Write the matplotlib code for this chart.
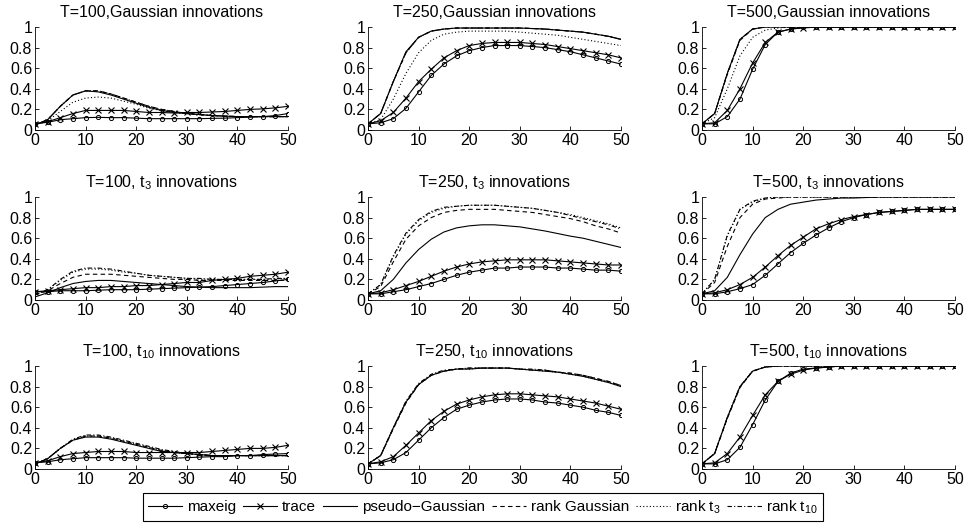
import numpy as np
import matplotlib
matplotlib.use("Agg")
import matplotlib.pyplot as plt

plt.rcParams['font.family'] = ['Liberation Sans', 'DejaVu Sans']
plt.rcParams['mathtext.fontset'] = 'custom'
plt.rcParams['mathtext.rm'] = 'Liberation Sans'
plt.rcParams['mathtext.it'] = 'Liberation Sans'
plt.rcParams['mathtext.default'] = 'regular'

# x grid: jump size 0 .. 50 in steps of 2.5
x = np.arange(0, 50.01, 2.5)

titles = ["T=100,Gaussian innovations", "T=250,Gaussian innovations", "T=500,Gaussian innovations",
          "T=100, t$_3$ innovations", "T=250, t$_3$ innovations", "T=500, t$_3$ innovations",
          "T=100, t$_{10}$ innovations", "T=250, t$_{10}$ innovations", "T=500, t$_{10}$ innovations"]

labels = ["maxeig", "trace", "pseudo\u2212Gaussian", "rank Gaussian", "rank t$_3$", "rank t$_{10}$"]

# rejection frequencies, one row per panel (row-major order)
maxeig = [
    [0.06, 0.075, 0.10, 0.11, 0.12, 0.123, 0.12, 0.12, 0.115, 0.11, 0.11, 0.11, 0.11, 0.11, 0.113, 0.115, 0.12, 0.125, 0.13, 0.14, 0.16],
    [0.06, 0.07, 0.11, 0.21, 0.37, 0.53, 0.64, 0.72, 0.77, 0.80, 0.82, 0.82, 0.82, 0.81, 0.80, 0.78, 0.76, 0.73, 0.70, 0.67, 0.64],
    [0.06, 0.06, 0.13, 0.30, 0.59, 0.83, 0.95, 0.98, 1.0, 1.0, 1.0, 1.0, 1.0, 1.0, 1.0, 1.0, 1.0, 1.0, 1.0, 1.0, 1.0],
    [0.08, 0.08, 0.09, 0.09, 0.09, 0.095, 0.10, 0.10, 0.10, 0.105, 0.11, 0.115, 0.12, 0.125, 0.13, 0.14, 0.15, 0.16, 0.17, 0.185, 0.20],
    [0.06, 0.06, 0.08, 0.10, 0.13, 0.16, 0.20, 0.24, 0.27, 0.29, 0.31, 0.31, 0.32, 0.32, 0.32, 0.31, 0.31, 0.30, 0.29, 0.29, 0.28],
    [0.06, 0.06, 0.08, 0.11, 0.15, 0.24, 0.35, 0.46, 0.55, 0.63, 0.70, 0.76, 0.80, 0.83, 0.85, 0.86, 0.87, 0.88, 0.88, 0.88, 0.88],
    [0.06, 0.07, 0.09, 0.10, 0.11, 0.11, 0.11, 0.11, 0.105, 0.105, 0.105, 0.105, 0.11, 0.115, 0.12, 0.12, 0.13, 0.13, 0.14, 0.145, 0.15],
    [0.05, 0.06, 0.09, 0.16, 0.28, 0.40, 0.50, 0.58, 0.62, 0.65, 0.67, 0.68, 0.68, 0.67, 0.65, 0.64, 0.62, 0.60, 0.57, 0.55, 0.52],
    [0.05, 0.05, 0.09, 0.21, 0.43, 0.67, 0.85, 0.93, 0.97, 0.98, 0.99, 1.0, 1.0, 1.0, 1.0, 1.0, 1.0, 1.0, 1.0, 1.0, 1.0],
]

trace = [
    [0.06, 0.08, 0.12, 0.16, 0.19, 0.19, 0.19, 0.19, 0.18, 0.17, 0.17, 0.165, 0.17, 0.17, 0.175, 0.18, 0.19, 0.20, 0.205, 0.215, 0.23],
    [0.06, 0.09, 0.17, 0.31, 0.47, 0.59, 0.70, 0.77, 0.82, 0.84, 0.85, 0.85, 0.85, 0.84, 0.83, 0.81, 0.79, 0.77, 0.75, 0.73, 0.70],
    [0.06, 0.07, 0.19, 0.40, 0.65, 0.85, 0.95, 0.98, 0.99, 1.0, 1.0, 1.0, 1.0, 1.0, 1.0, 1.0, 1.0, 1.0, 1.0, 1.0, 1.0],
    [0.08, 0.09, 0.10, 0.11, 0.12, 0.12, 0.13, 0.13, 0.14, 0.14, 0.15, 0.16, 0.17, 0.17, 0.19, 0.20, 0.21, 0.23, 0.24, 0.25, 0.27],
    [0.06, 0.07, 0.10, 0.14, 0.18, 0.23, 0.28, 0.32, 0.35, 0.37, 0.38, 0.39, 0.39, 0.39, 0.39, 0.38, 0.37, 0.36, 0.35, 0.34, 0.34],
    [0.06, 0.07, 0.10, 0.15, 0.22, 0.32, 0.43, 0.53, 0.61, 0.69, 0.74, 0.78, 0.81, 0.83, 0.85, 0.86, 0.87, 0.88, 0.88, 0.88, 0.88],
    [0.06, 0.08, 0.12, 0.15, 0.16, 0.17, 0.17, 0.17, 0.16, 0.16, 0.16, 0.16, 0.16, 0.16, 0.17, 0.18, 0.19, 0.20, 0.20, 0.21, 0.23],
    [0.05, 0.07, 0.12, 0.23, 0.35, 0.47, 0.56, 0.63, 0.67, 0.70, 0.72, 0.73, 0.73, 0.72, 0.71, 0.70, 0.68, 0.66, 0.64, 0.61, 0.58],
    [0.05, 0.06, 0.15, 0.31, 0.52, 0.72, 0.85, 0.92, 0.96, 0.98, 0.99, 1.0, 1.0, 1.0, 1.0, 1.0, 1.0, 1.0, 1.0, 1.0, 1.0],
]

pseudo_gauss = [
    [0.05, 0.10, 0.23, 0.34, 0.38, 0.37, 0.34, 0.30, 0.26, 0.22, 0.19, 0.17, 0.16, 0.15, 0.14, 0.135, 0.13, 0.13, 0.13, 0.13, 0.13],
    [0.06, 0.16, 0.47, 0.76, 0.90, 0.96, 0.98, 0.99, 0.99, 0.99, 0.99, 0.99, 0.99, 0.985, 0.98, 0.97, 0.96, 0.95, 0.93, 0.91, 0.88],
    [0.06, 0.16, 0.55, 0.88, 0.98, 1.0, 1.0, 1.0, 1.0, 1.0, 1.0, 1.0, 1.0, 1.0, 1.0, 1.0, 1.0, 1.0, 1.0, 1.0, 1.0],
    [0.03, 0.07, 0.12, 0.16, 0.18, 0.19, 0.19, 0.18, 0.17, 0.16, 0.15, 0.14, 0.13, 0.125, 0.12, 0.12, 0.12, 0.12, 0.125, 0.13, 0.13],
    [0.06, 0.09, 0.20, 0.36, 0.49, 0.59, 0.66, 0.70, 0.72, 0.73, 0.73, 0.72, 0.71, 0.69, 0.67, 0.645, 0.62, 0.60, 0.57, 0.54, 0.51],
    [0.06, 0.09, 0.22, 0.44, 0.64, 0.80, 0.88, 0.93, 0.95, 0.97, 0.98, 0.99, 0.99, 0.995, 1.0, 1.0, 1.0, 1.0, 1.0, 1.0, 1.0],
    [0.05, 0.10, 0.20, 0.28, 0.31, 0.31, 0.29, 0.26, 0.23, 0.20, 0.17, 0.16, 0.15, 0.14, 0.13, 0.13, 0.13, 0.13, 0.13, 0.13, 0.13],
    [0.05, 0.13, 0.40, 0.65, 0.82, 0.91, 0.95, 0.97, 0.97, 0.98, 0.98, 0.98, 0.97, 0.96, 0.95, 0.94, 0.92, 0.90, 0.87, 0.84, 0.80],
    [0.05, 0.15, 0.50, 0.80, 0.95, 0.99, 1.0, 1.0, 1.0, 1.0, 1.0, 1.0, 1.0, 1.0, 1.0, 1.0, 1.0, 1.0, 1.0, 1.0, 1.0],
]

rank_gauss = [
    [0.05, 0.10, 0.23, 0.34, 0.38, 0.38, 0.35, 0.31, 0.27, 0.23, 0.20, 0.18, 0.16, 0.15, 0.14, 0.135, 0.13, 0.13, 0.13, 0.13, 0.13],
    [0.06, 0.16, 0.47, 0.75, 0.90, 0.96, 0.98, 0.99, 0.99, 0.99, 0.99, 0.99, 0.99, 0.985, 0.98, 0.97, 0.96, 0.95, 0.93, 0.91, 0.88],
    [0.06, 0.16, 0.54, 0.87, 0.98, 1.0, 1.0, 1.0, 1.0, 1.0, 1.0, 1.0, 1.0, 1.0, 1.0, 1.0, 1.0, 1.0, 1.0, 1.0, 1.0],
    [0.05, 0.09, 0.16, 0.22, 0.25, 0.25, 0.25, 0.24, 0.23, 0.22, 0.21, 0.20, 0.20, 0.19, 0.19, 0.19, 0.19, 0.19, 0.19, 0.19, 0.19],
    [0.06, 0.13, 0.37, 0.59, 0.72, 0.80, 0.85, 0.87, 0.88, 0.88, 0.88, 0.87, 0.86, 0.85, 0.83, 0.81, 0.79, 0.76, 0.72, 0.69, 0.65],
    [0.06, 0.17, 0.52, 0.80, 0.93, 0.98, 0.99, 1.0, 1.0, 1.0, 1.0, 1.0, 1.0, 1.0, 1.0, 1.0, 1.0, 1.0, 1.0, 1.0, 1.0],
    [0.05, 0.10, 0.20, 0.28, 0.32, 0.32, 0.30, 0.27, 0.24, 0.21, 0.18, 0.16, 0.15, 0.14, 0.13, 0.13, 0.13, 0.13, 0.13, 0.13, 0.13],
    [0.05, 0.13, 0.39, 0.64, 0.82, 0.91, 0.95, 0.97, 0.98, 0.98, 0.98, 0.98, 0.97, 0.96, 0.96, 0.94, 0.93, 0.91, 0.88, 0.85, 0.81],
    [0.05, 0.15, 0.49, 0.79, 0.95, 0.99, 1.0, 1.0, 1.0, 1.0, 1.0, 1.0, 1.0, 1.0, 1.0, 1.0, 1.0, 1.0, 1.0, 1.0, 1.0],
]

rank_t3 = [
    [0.05, 0.09, 0.18, 0.27, 0.31, 0.32, 0.31, 0.28, 0.25, 0.21, 0.19, 0.17, 0.16, 0.15, 0.14, 0.135, 0.13, 0.13, 0.13, 0.13, 0.13],
    [0.06, 0.10, 0.30, 0.55, 0.75, 0.87, 0.93, 0.95, 0.96, 0.96, 0.96, 0.96, 0.95, 0.94, 0.93, 0.92, 0.90, 0.88, 0.86, 0.84, 0.82],
    [0.06, 0.12, 0.40, 0.72, 0.90, 0.97, 0.99, 1.0, 1.0, 1.0, 1.0, 1.0, 1.0, 1.0, 1.0, 1.0, 1.0, 1.0, 1.0, 1.0, 1.0],
    [0.05, 0.10, 0.19, 0.27, 0.30, 0.30, 0.29, 0.27, 0.26, 0.24, 0.23, 0.22, 0.21, 0.205, 0.20, 0.20, 0.20, 0.20, 0.20, 0.205, 0.21],
    [0.06, 0.15, 0.42, 0.64, 0.77, 0.85, 0.89, 0.91, 0.92, 0.92, 0.92, 0.91, 0.90, 0.89, 0.87, 0.85, 0.83, 0.80, 0.77, 0.74, 0.70],
    [0.06, 0.20, 0.62, 0.88, 0.95, 0.99, 1.0, 1.0, 1.0, 1.0, 1.0, 1.0, 1.0, 1.0, 1.0, 1.0, 1.0, 1.0, 1.0, 1.0, 1.0],
    [0.05, 0.10, 0.20, 0.28, 0.32, 0.32, 0.30, 0.27, 0.24, 0.21, 0.18, 0.16, 0.15, 0.14, 0.13, 0.13, 0.13, 0.13, 0.13, 0.13, 0.13],
    [0.05, 0.13, 0.40, 0.65, 0.82, 0.91, 0.95, 0.97, 0.97, 0.98, 0.98, 0.98, 0.97, 0.96, 0.95, 0.94, 0.92, 0.90, 0.87, 0.84, 0.80],
    [0.05, 0.15, 0.50, 0.80, 0.95, 0.99, 1.0, 1.0, 1.0, 1.0, 1.0, 1.0, 1.0, 1.0, 1.0, 1.0, 1.0, 1.0, 1.0, 1.0, 1.0],
]

rank_t10 = [
    [0.05, 0.10, 0.23, 0.34, 0.38, 0.38, 0.35, 0.31, 0.27, 0.23, 0.20, 0.18, 0.16, 0.15, 0.14, 0.135, 0.13, 0.13, 0.13, 0.13, 0.13],
    [0.06, 0.16, 0.47, 0.75, 0.90, 0.96, 0.98, 0.99, 0.99, 0.99, 0.99, 0.99, 0.99, 0.985, 0.98, 0.97, 0.96, 0.95, 0.93, 0.91, 0.88],
    [0.06, 0.16, 0.55, 0.88, 0.98, 1.0, 1.0, 1.0, 1.0, 1.0, 1.0, 1.0, 1.0, 1.0, 1.0, 1.0, 1.0, 1.0, 1.0, 1.0, 1.0],
    [0.05, 0.10, 0.20, 0.28, 0.31, 0.31, 0.30, 0.28, 0.26, 0.24, 0.23, 0.22, 0.21, 0.21, 0.20, 0.20, 0.20, 0.20, 0.20, 0.21, 0.21],
    [0.06, 0.15, 0.43, 0.65, 0.78, 0.86, 0.90, 0.91, 0.92, 0.92, 0.92, 0.91, 0.90, 0.89, 0.87, 0.85, 0.82, 0.79, 0.76, 0.73, 0.69],
    [0.06, 0.20, 0.63, 0.88, 0.96, 0.99, 1.0, 1.0, 1.0, 1.0, 1.0, 1.0, 1.0, 1.0, 1.0, 1.0, 1.0, 1.0, 1.0, 1.0, 1.0],
    [0.05, 0.10, 0.20, 0.29, 0.33, 0.33, 0.31, 0.28, 0.25, 0.22, 0.19, 0.17, 0.15, 0.14, 0.13, 0.13, 0.13, 0.13, 0.13, 0.13, 0.13],
    [0.05, 0.13, 0.40, 0.66, 0.83, 0.92, 0.96, 0.97, 0.98, 0.98, 0.98, 0.98, 0.97, 0.97, 0.96, 0.94, 0.93, 0.91, 0.88, 0.85, 0.81],
    [0.05, 0.15, 0.50, 0.80, 0.95, 0.99, 1.0, 1.0, 1.0, 1.0, 1.0, 1.0, 1.0, 1.0, 1.0, 1.0, 1.0, 1.0, 1.0, 1.0, 1.0],
]

fig = plt.figure(figsize=(9.69, 5.31), dpi=100)

# axes placement in pixels (matlab-like subplot grid)
lefts = [35, 368, 702]
bottoms = [130, 300, 469]
W, H = 253, 103

lw = 0.8
fs = 11.5
handles = None
for i in range(9):
    r, c = divmod(i, 3)
    ax = fig.add_axes([lefts[c] / 969, 1 - bottoms[r] / 531, W / 969, H / 531])
    h1, = ax.plot(x, maxeig[i], '-o', color='k', lw=lw, ms=3, mfc='none', mew=0.7)
    h2, = ax.plot(x, trace[i], '-x', color='k', lw=lw, ms=4, mew=0.8)
    h3, = ax.plot(x, pseudo_gauss[i], '-', color='k', lw=lw)
    h4, = ax.plot(x, rank_gauss[i], '--', color='k', lw=lw, dashes=(4, 3))
    h5, = ax.plot(x, rank_t3[i], ':', color='k', lw=lw, dashes=(1, 2))
    h6, = ax.plot(x, rank_t10[i], '-.', color='k', lw=lw, dashes=(4, 2, 1, 2))
    handles = [h1, h2, h3, h4, h5, h6]

    ax.set_xlim(0, 50)
    ax.set_ylim(0, 1)
    ax.set_xticks([0, 10, 20, 30, 40, 50])
    ax.set_yticks([0, 0.2, 0.4, 0.6, 0.8, 1])
    ax.set_yticklabels(["0", "0.2", "0.4", "0.6", "0.8", "1"])
    ax.spines['top'].set_visible(False)
    ax.spines['right'].set_visible(False)
    ax.spines['left'].set_linewidth(0.6)
    ax.spines['bottom'].set_linewidth(0.6)
    ax.tick_params(direction='in', length=3, width=0.6, labelsize=fs, pad=2)
    ax.set_title(titles[i], fontsize=fs, pad=7)

fig.legend(handles, labels, loc='center', bbox_to_anchor=(483 / 969, 1 - 507 / 531),
           ncol=6, fontsize=11, frameon=True, fancybox=False, edgecolor='k',
           handlelength=2.25, handletextpad=0.3, columnspacing=0.45, borderpad=0.35,
           framealpha=1)
fig.legends[0].get_frame().set_linewidth(0.8)

fig.savefig("out.png", dpi=100)
